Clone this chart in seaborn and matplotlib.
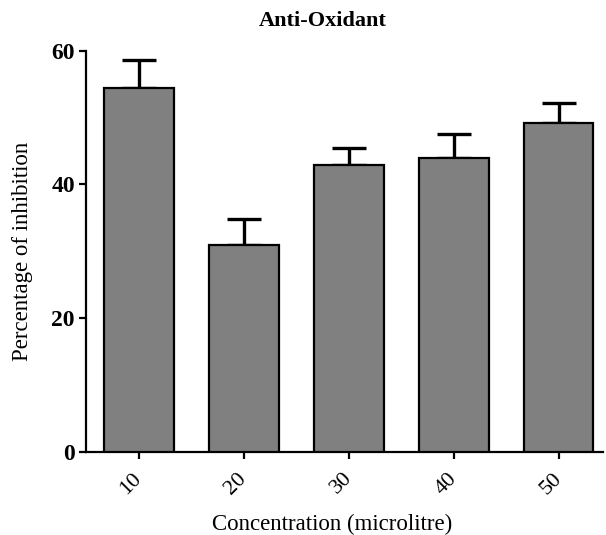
import matplotlib
matplotlib.use("Agg")
import matplotlib.pyplot as plt
import seaborn as sns
import pandas as pd
import numpy as np

categories = ["10", "20", "30", "40", "50"]
values = [54.5, 31.0, 42.9, 43.9, 49.2]
errors = [4.1, 3.8, 2.5, 3.6, 3.0]
yticks = [0, 20, 40, 60]

sns.set_theme(style="ticks")
plt.rcParams["font.family"] = ["Liberation Serif", "DejaVu Serif"]
plt.rcParams["text.color"] = "black"
plt.rcParams["axes.labelcolor"] = "black"
plt.rcParams["xtick.color"] = "black"
plt.rcParams["ytick.color"] = "black"
plt.rcParams["axes.edgecolor"] = "black"

df = pd.DataFrame({"conc": categories, "val": values})

fig = plt.figure(figsize=(6.06, 5.35), dpi=100)
ax = fig.add_axes([0.1419, 0.1551, 0.853, 0.7501])

sns.barplot(data=df, x="conc", y="val", color="#808080", saturation=1,
            edgecolor="black", linewidth=1.6, width=0.66, errorbar=None, ax=ax, zorder=3)

xs = [p.get_x() + p.get_width() / 2 for p in ax.patches]
tops = [p.get_height() for p in ax.patches]
ax.errorbar(xs, tops, yerr=[np.zeros(len(errors)), errors], fmt="none",
            ecolor="black", elinewidth=2.4, capsize=12.5, capthick=2.4, zorder=2)

ax.set_ylim(0, 60)
ax.set_xlim(-0.505, 4.42)
ax.set_yticks(yticks)
ax.set_yticklabels([str(t) for t in yticks], fontweight="bold", fontsize=17)
ax.set_xticks(range(len(categories)))
ax.set_xticklabels(categories, rotation=45, fontsize=16)
for lab in ax.get_xticklabels():
    lab.set_rotation_mode("anchor")
    lab.set_ha("right")
    lab.set_va("center")

for s in ["top", "right"]:
    ax.spines[s].set_visible(False)
for s in ["left", "bottom"]:
    ax.spines[s].set_linewidth(1.6)
    ax.spines[s].set_color("black")
ax.tick_params(axis="both", direction="out", length=5, width=1.6, color="black",
               labelcolor="black")
ax.tick_params(axis="x", pad=12)
ax.tick_params(axis="y", pad=3)

ax.set_xlabel("Concentration (microlitre)", fontsize=16.5, labelpad=14, color="black")
ax.xaxis.set_label_coords(0.476, -0.155)
ax.set_ylabel("Percentage of inhibition", fontsize=16.5, labelpad=13, color="black")
ax.set_title("Anti-Oxidant", fontweight="bold", fontsize=16, x=0.457, pad=18, color="black")

fig.savefig("out.png", dpi=100)
